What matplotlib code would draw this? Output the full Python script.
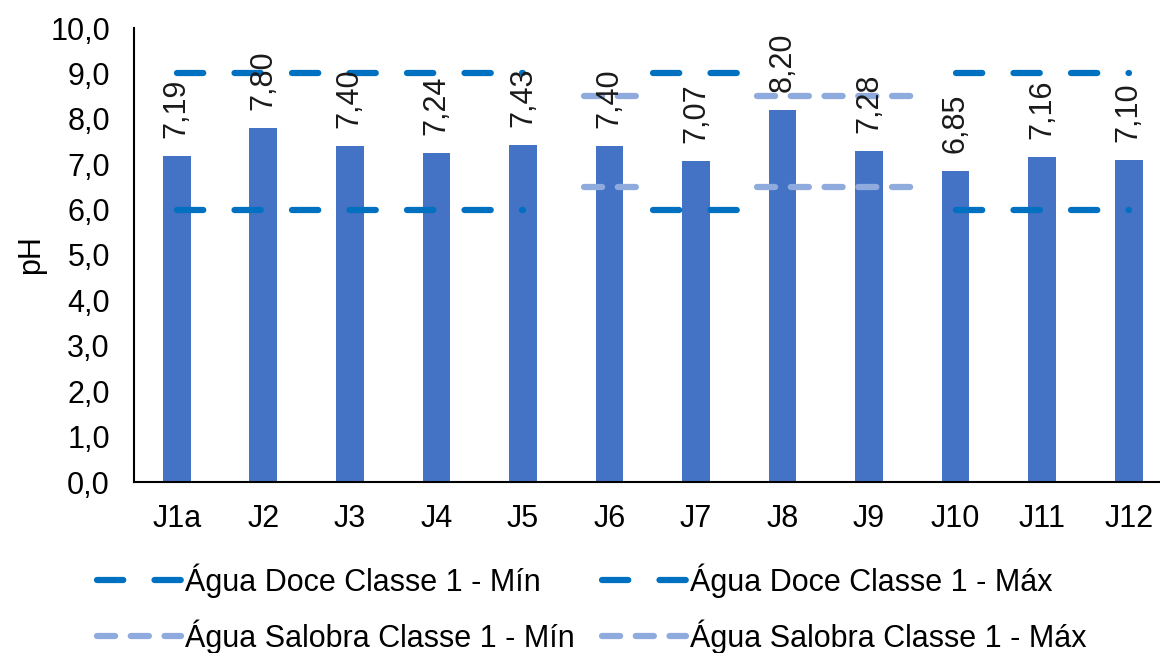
import matplotlib.pyplot as plt
from matplotlib.ticker import FuncFormatter

plt.rcParams['font.family'] = ['Liberation Sans', 'DejaVu Sans']

# pH per sampling point
cats = ['J1a', 'J2', 'J3', 'J4', 'J5', 'J6', 'J7', 'J8', 'J9', 'J10', 'J11', 'J12']
ph = [7.19, 7.80, 7.40, 7.24, 7.43, 7.40, 7.07, 8.20, 7.28, 6.85, 7.16, 7.10]

# class 1 limits and the category ranges they apply to
doce_min, doce_max = 6.0, 9.0
sal_min, sal_max = 6.5, 8.5
doce_spans = [(0, 4), (5.5, 6.5), (9, 11)]
sal_spans = [(4.7, 5.35), (6.7, 8.5)]

bar_color = '#4472C4'
doce_color = '#0070C0'
sal_color = '#8FAADC'
fs = 22

fig = plt.figure(figsize=(11.6, 6.53), dpi=100)
W, H = 1160, 653
ax = fig.add_axes([133.5 / W, (H - 482) / H, (1172 - 133.5) / W, (482 - 28) / H])

x = list(range(len(cats)))
ax.bar(x, ph, width=0.32, color=bar_color, zorder=2)

lw = 4.5
doce_style = dict(color=doce_color, lw=lw, dashes=(4.2, 5.0),
                  dash_capstyle='round', solid_capstyle='round', zorder=3)
sal_style = dict(color=sal_color, lw=lw, dashes=(2.9, 2.5),
                 dash_capstyle='round', solid_capstyle='round', zorder=3)

handles = {}
for name, val, spans, style in [('Água Doce Classe 1 - Mín', doce_min, doce_spans, doce_style),
                                ('Água Doce Classe 1 - Máx', doce_max, doce_spans, doce_style),
                                ('Água Salobra Classe 1 - Mín', sal_min, sal_spans, sal_style),
                                ('Água Salobra Classe 1 - Máx', sal_max, sal_spans, sal_style)]:
    for a, b in spans:
        line, = ax.plot([a, b], [val, val], **style)
    handles[name] = line

# data labels, rotated
for xi, v in zip(x, ph):
    ax.annotate(f'{v:.2f}'.replace('.', ','), (xi, v), xytext=(0, 13),
                textcoords='offset points', rotation=90, ha='center', va='bottom',
                fontsize=fs, color='#1a1a1a', zorder=4, annotation_clip=False)

ax.set_xlim(-0.5, 11.5)
ax.set_ylim(0, 10)
ax.set_yticks([i for i in range(11)])
ax.yaxis.set_major_formatter(FuncFormatter(lambda v, p: f'{v:.1f}'.replace('.', ',')))
ax.set_xticks(x)
ax.set_xticklabels(cats)
ax.tick_params(axis='both', length=0, labelsize=fs, colors='black')
ax.tick_params(axis='x', pad=16)
ax.tick_params(axis='y', pad=17)
for s in ['top', 'right']:
    ax.spines[s].set_visible(False)
for s in ['left', 'bottom']:
    ax.spines[s].set_linewidth(1.5)
    ax.spines[s].set_color('black')

fig.text(31 / W, 1 - 255 / H, 'pH', rotation=90, ha='center', va='center', fontsize=fs)

# row-major order like the original legend
order = ['Água Doce Classe 1 - Mín', 'Água Salobra Classe 1 - Mín',
         'Água Doce Classe 1 - Máx', 'Água Salobra Classe 1 - Máx']
fig.legend([handles[k] for k in order], order, loc='upper left',
           bbox_to_anchor=(97 / W, 1 - 563 / H), ncol=2,
           frameon=False, fontsize=fs, handlelength=2.75, handletextpad=0.12,
           columnspacing=0.9, labelspacing=0.72, borderpad=0, borderaxespad=0)

fig.savefig('out.png', dpi=100)
